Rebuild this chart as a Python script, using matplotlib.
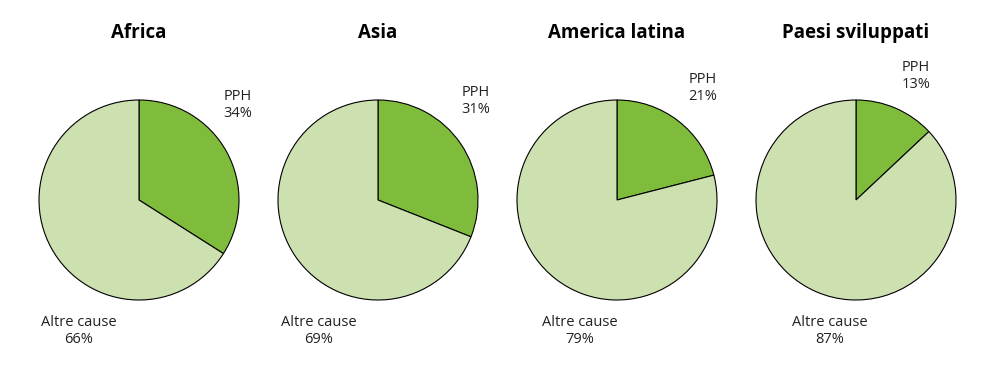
import matplotlib.pyplot as plt

regions = ["Africa", "Asia", "America latina", "Paesi sviluppati"]
pph = [34, 31, 21, 13]
altre = [66, 69, 79, 87]

dark_green = "#80bc3c"
light_green = "#cde0af"

# label offsets (in pie radii) for each panel
pph_pos = [(0.99, 0.95), (0.98, 0.99), (0.86, 1.12), (0.60, 1.24)]
altre_pos = [(-0.60, -1.31), (-0.59, -1.31), (-0.37, -1.31), (-0.26, -1.31)]

plt.rcParams['font.family'] = ['Open Sans', 'DejaVu Sans']

W, H = 992, 379
fig = plt.figure(figsize=(W / 100, H / 100), dpi=100)

centers = [139, 378, 617, 856]
for i, name in enumerate(regions):
    cx = centers[i]
    ax = fig.add_axes([(cx - 119.5) / W, 0, 239 / W, 1])
    ax.set_xlim(-1.195, 1.195)
    ax.set_ylim(-1.79, 2.0)
    ax.axis('off')
    ax.pie([pph[i], altre[i]], colors=[dark_green, light_green],
           startangle=90, counterclock=False, radius=1.0,
           wedgeprops=dict(edgecolor='black', linewidth=0.8))
    ax.set_xlim(-1.195, 1.195)
    ax.set_ylim(-1.79, 2.0)
    ax.set_aspect('auto')
    ax.text(0, 1.67, name, ha='center', va='center', fontsize=13.5,
            fontweight='bold', color='black')
    px, py = pph_pos[i]
    ax.text(px, py, f"PPH\n{pph[i]}%", ha='center', va='center',
            fontsize=10.5, linespacing=1.25, color='#222222')
    qx, qy = altre_pos[i]
    ax.text(qx, qy, f"Altre cause\n{altre[i]}%", ha='center', va='center',
            fontsize=10.5, linespacing=1.25, color='#222222')

fig.savefig("out.png", dpi=100)
